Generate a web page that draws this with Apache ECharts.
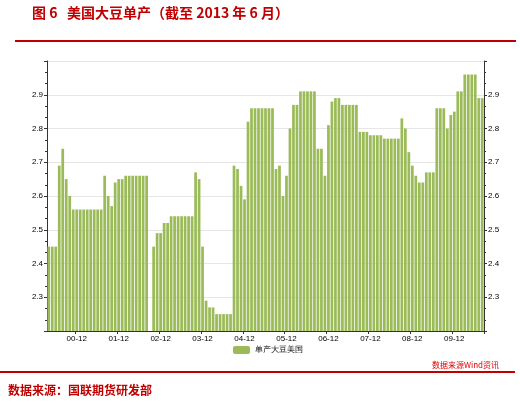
<!DOCTYPE html>
<html><head><meta charset="utf-8">
<script src="https://cdn.jsdelivr.net/npm/echarts@6/dist/echarts.min.js"></script>
<style>html,body{margin:0;padding:0;background:#fff}#c{width:520px;height:404px}</style>
</head><body><div id="c"></div>
<script>
const values = [
2.45,2.45,2.45,2.69,2.74,2.65,2.60,2.56,2.56,2.56,2.56,2.56,2.56,2.56,2.56,2.56,2.66,2.60,2.57,2.64,2.65,2.65,2.66,2.66,2.66,2.66,2.66,2.66,2.66,
null,
2.45,2.49,2.49,2.52,2.52,2.54,2.54,2.54,2.54,2.54,2.54,2.54,2.67,2.65,2.45,2.29,2.27,2.27,2.25,2.25,2.25,2.25,2.25,
2.69,2.68,2.63,2.59,2.82,2.86,2.86,2.86,2.86,2.86,2.86,2.86,
2.68,2.69,2.60,2.66,2.80,2.87,2.87,2.91,2.91,2.91,2.91,2.91,2.74,2.74,2.66,2.81,2.88,2.89,2.89,
2.87,2.87,2.87,2.87,2.87,2.79,2.79,2.79,2.78,2.78,2.78,2.78,2.77,2.77,2.77,2.77,2.77,
2.83,2.80,2.73,2.69,2.66,2.64,2.64,2.67,2.67,2.67,2.86,2.86,2.86,2.80,2.84,2.85,2.91,2.91,2.96,2.96,2.96,2.96,2.89,2.89
];
const seriesName = '单产大豆美国';
const categories = values.map((v,i)=>{const m=(i+3)%12+1; const y=Math.floor((i+3)/12); return String(y).padStart(2,'0')+'-'+String(m).padStart(2,'0');});
const yTicks = [2.3,2.4,2.5,2.6,2.7,2.8,2.9];
const isLab = (i,n)=>n.endsWith('-12');
const yAx = (pos)=>({type:'value',min:2.2,max:3.0,interval:0.1,position:pos,
  axisLine:{show:true,lineStyle:{color:'#333'}},axisTick:{show:true,length:3,inside:pos==='right'?false:false},
  minorTick:{show:true,splitNumber:3,length:2,lineStyle:{color:'#333'}},
  axisLabel:{fontSize:8,color:'#000',margin:4,formatter:v=>yTicks.some(t=>Math.abs(t-v)<1e-6)?v.toFixed(1):''},
  splitLine:{show:pos==='left',lineStyle:{color:'#e6e6e6'}}});
const ch = echarts.init(document.getElementById('c'));
ch.setOption({
  animation:false,
  grid:{left:47,right:36,top:61,bottom:73},
  xAxis:[{type:'category',data:categories,
  axisLine:{lineStyle:{color:'#333'}},axisTick:{show:true,interval:isLab,length:3},
  axisLabel:{interval:isLab,fontSize:8,color:'#000',margin:4},splitLine:{show:false}}],
  yAxis:[yAx('left'),yAx('right')],
  legend:{bottom:45,left:228,itemWidth:17,itemHeight:8,textStyle:{fontSize:8,color:'#000'},data:[seriesName]},
  series:[{name:seriesName,type:'bar',data:values,barCategoryGap:'22%',itemStyle:{color:'#9bbb59'}}],
  graphic:[
    {type:'text',left:32,top:6,style:{text:'图 6   美国大豆单产（截至 2013 年 6 月）',font:'bold 14px "Noto Sans CJK SC", serif',fill:'#c00000'}},
    {type:'line',shape:{x1:15,y1:41,x2:516,y2:41},style:{stroke:'#c00000',lineWidth:2}},
    {type:'text',left:432,top:361,style:{text:'数据来源Wind资讯',font:'8px "Noto Sans CJK SC"',fill:'#e00000'}},
    {type:'line',shape:{x1:0,y1:372,x2:515,y2:372},style:{stroke:'#c00000',lineWidth:2}},
    {type:'text',left:8,top:384,style:{text:'数据来源：国联期货研发部',font:'bold 12px "Noto Sans CJK SC", serif',fill:'#c00000'}}
  ]
});
</script></body></html>
